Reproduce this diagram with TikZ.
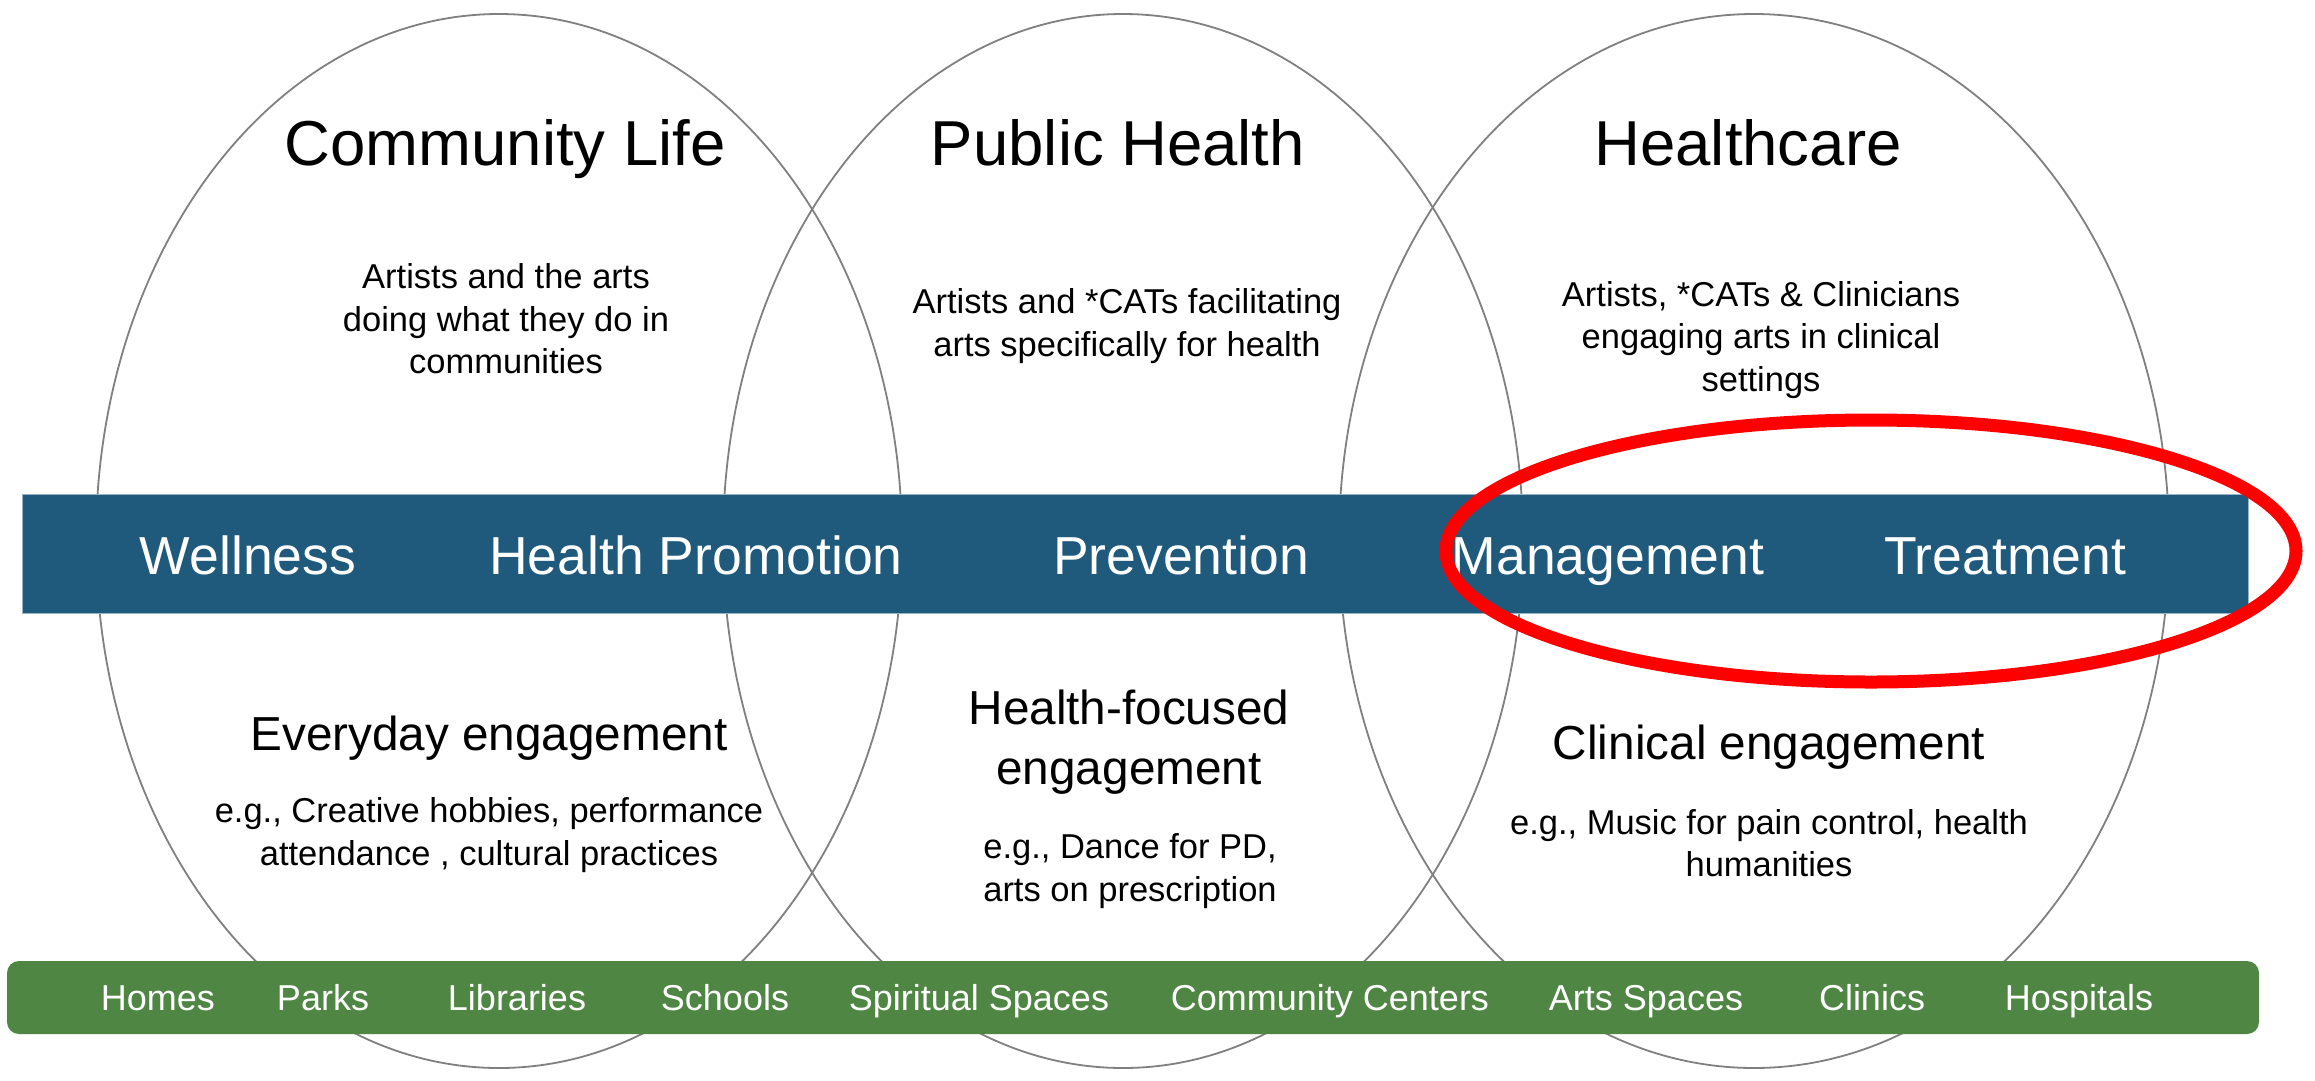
\documentclass[tikz,border=0pt]{standalone}
\usepackage{fontspec}
\setmainfont{Liberation Sans}
\definecolor{bandblue}{RGB}{31,90,124}
\definecolor{bandedge}{RGB}{150,180,200}
\definecolor{bargreen}{RGB}{80,134,68}
\definecolor{ringgrey}{RGB}{128,128,128}
\definecolor{markred}{RGB}{255,0,0}
\begin{document}
\begin{tikzpicture}[x=1pt,y=-1pt,
  ring/.style={draw=ringgrey,line width=1.8pt},
  title/.style={font=\fontsize{63.5}{76}\selectfont, inner sep=0, anchor=base},
  desc/.style={font=\fontsize{34.5}{42.5}\selectfont, align=center, inner sep=0},
  sub/.style={font=\fontsize{47.7}{60}\selectfont, align=center, inner sep=0},
  subone/.style={font=\fontsize{47.7}{60}\selectfont, inner sep=0, anchor=base},
  stage/.style={font=\fontsize{53.5}{64}\selectfont, text=white, inner sep=0, anchor=base},
  place/.style={font=\fontsize{36}{43}\selectfont, text=white, inner sep=0, anchor=base},
]
\useasboundingbox (0,0) rectangle (2315,1080);
\fill[white] (0,0) rectangle (2315,1080);

% three overlapping circles
\draw[ring] (499,541) ellipse [x radius=403pt, y radius=527pt];
\draw[ring] (1123,541) ellipse [x radius=400pt, y radius=527pt];
\draw[ring] (1754,541) ellipse [x radius=415pt, y radius=527pt];

% titles
\node[title] (t1) at (505,165) {Community Life};
\node[title] (t2) at (1118,165) {Public Health};
\node[title] (t3) at (1748,165) {Healthcare};

% descriptions
\node[desc] (d1) at (506,319) {Artists and the arts\\doing what they do in\\communities};
\node[desc] (d2) at (1127,326) {Artists and *CATs facilitating\\arts specifically for health};
\node[desc] (d3) at (1761,340) {Artists, *CATs \& Clinicians\\engaging arts in clinical\\settings};

% blue band
\fill[bandblue, draw=bandedge, line width=1pt] (22,494) rectangle (2248,613);
\node[stage] (s1) at (248,574) {Wellness};
\node[stage] (s2) at (696,574) {Health Promotion};
\node[stage] (s3) at (1181,574) {Prevention};
\node[stage] (s4) at (1608,574) {Management};
\node[stage] (s5) at (2005,574) {Treatment};

% red highlight
\draw[markred, line width=13pt] (1871,551) ellipse [x radius=425pt, y radius=131pt];

% engagement types
\node[subone] (e1) at (489,750) {Everyday engagement};
\node[desc] (x1) at (489,835) {e.g., Creative hobbies, performance\\attendance , cultural practices};
\node[sub] (e2) at (1129,742) {Health-focused\\engagement};
\node[desc] (x2) at (1130,871) {e.g., Dance for PD,\\arts on prescription};
\node[subone] (e3) at (1769,759) {Clinical engagement};
\node[desc] (x3) at (1769,843) {e.g., Music for pain control, health\\humanities};

% green bar
\fill[bargreen, rounded corners=12pt] (7,961) rectangle (2259,1034);
\node[place] (p1) at (158,1010) {Homes};
\node[place] (p2) at (323,1010) {Parks};
\node[place] (p3) at (517,1010) {Libraries};
\node[place] (p4) at (725,1010) {Schools};
\node[place] (p5) at (979,1010) {Spiritual Spaces};
\node[place] (p6) at (1330,1010) {Community Centers};
\node[place] (p7) at (1646,1010) {Arts Spaces};
\node[place] (p8) at (1872,1010) {Clinics};
\node[place] (p9) at (2079,1010) {Hospitals};
\end{tikzpicture}
\end{document}
